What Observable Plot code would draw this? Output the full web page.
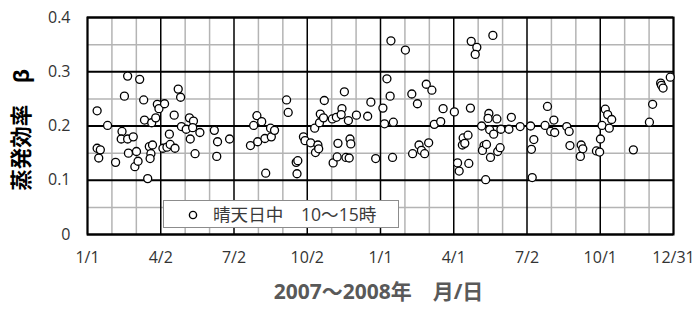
<!DOCTYPE html>
<html>
<head>
<meta charset="utf-8">
<script src="https://cdn.jsdelivr.net/npm/d3@7"></script>
<script src="https://cdn.jsdelivr.net/npm/@observablehq/plot@0.6"></script>
<style>
  html, body { margin: 0; padding: 0; background: white; }
  #wrap { position: relative; width: 700px; height: 312px; }
  #legend {
    position: absolute; left: 163px; top: 200px; width: 236px; height: 28px;
    box-sizing: border-box; border: 1px solid #8c8c8c; background: white;
    font-family: "Open Sans", "Noto Sans CJK JP", sans-serif; font-size: 17.6px; color: #3a3a3a;
  }
  #legend svg { position: absolute; left: 22px; top: 7px; }
  #legend span { position: absolute; left: 49px; top: 2px; line-height: 22px; white-space: pre; }
</style>
</head>
<body>
<div id="wrap"></div>
<script>
// Days counted from 2007-01-01 (0) to 2008-12-31 (730)
const days2007 = [12, 12, 16, 14, 25, 35, 43, 42, 50, 46, 50, 51, 57, 59, 61, 63, 65, 70, 71, 75,
  77, 79, 78, 81, 80, 85, 87, 89, 96, 94, 99, 102, 103, 108, 109, 113, 116, 117, 123, 127,
  132, 131, 128, 134, 140, 158, 162, 161, 177, 203, 207, 211, 212, 217, 222, 221, 228, 229, 233, 248,
  250, 260, 262, 261, 269, 271, 278, 283, 284, 287, 288, 289, 290, 294, 295, 306, 311, 305, 310, 312,
  317, 316, 320, 322, 326, 325, 327, 328, 335, 349, 353, 359];
const beta2007 = [0.228, 0.159, 0.156, 0.141, 0.201, 0.133, 0.190, 0.176, 0.176, 0.255, 0.292, 0.150, 0.180, 0.125, 0.153, 0.135, 0.286, 0.248, 0.211, 0.103,
  0.162, 0.149, 0.140, 0.165, 0.206, 0.215, 0.240, 0.232, 0.241, 0.159, 0.161, 0.185, 0.166, 0.220, 0.159, 0.268, 0.253, 0.199, 0.194, 0.215,
  0.209, 0.197, 0.176, 0.149, 0.188, 0.192, 0.171, 0.144, 0.176, 0.164, 0.201, 0.219, 0.171, 0.208, 0.113, 0.177, 0.196, 0.180, 0.192, 0.248,
  0.225, 0.133, 0.136, 0.112, 0.180, 0.173, 0.169, 0.196, 0.151, 0.165, 0.158, 0.206, 0.222, 0.215, 0.247, 0.132, 0.143, 0.213, 0.216, 0.168,
  0.232, 0.221, 0.263, 0.142, 0.141, 0.210, 0.176, 0.167, 0.220, 0.218, 0.244, 0.140];
const days2008 = [368, 370, 373, 377, 378, 381, 380, 396, 404, 411, 422, 429, 443, 457, 432, 440, 405, 413, 416, 420,
  425, 468, 474, 467, 470, 461, 463, 475, 477, 478, 485, 483, 505, 491, 500, 499, 510, 501, 506, 515,
  525, 528, 494, 492, 497, 502, 511, 514, 496, 539, 552, 556, 553, 554, 570, 573, 581, 577, 582, 597,
  600, 601, 615, 617, 614, 634, 638, 639, 641, 645, 648, 653, 650, 680, 700, 704, 714, 715, 717, 726];
const beta2008 = [0.233, 0.204, 0.287, 0.255, 0.357, 0.207, 0.142, 0.340, 0.259, 0.241, 0.277, 0.266, 0.232, 0.226, 0.203, 0.208, 0.149, 0.165, 0.155, 0.149,
  0.169, 0.178, 0.183, 0.165, 0.168, 0.132, 0.117, 0.131, 0.233, 0.356, 0.345, 0.332, 0.367, 0.200, 0.223, 0.214, 0.213, 0.193, 0.185, 0.194,
  0.194, 0.216, 0.164, 0.155, 0.166, 0.142, 0.153, 0.160, 0.101, 0.199, 0.200, 0.175, 0.157, 0.105, 0.201, 0.236, 0.211, 0.190, 0.188, 0.199,
  0.190, 0.164, 0.165, 0.158, 0.144, 0.154, 0.152, 0.176, 0.201, 0.231, 0.221, 0.212, 0.196, 0.156, 0.207, 0.240, 0.279, 0.275, 0.270, 0.290];

const tickDays = [0, 91.25, 182.5, 273.75, 365, 456.25, 547.5, 638.75, 730];
const tickLabels = ["1/1", "4/2", "7/2", "10/2", "1/1", "4/1", "7/2", "10/1", "12/31"];
const yTicks = [0, 0.1, 0.2, 0.3, 0.4];
const yTickLabels = ["0", "0.1", "0.2", "0.3", "0.4"];
const xTitle = "2007～2008年　月/日";
const yTitle = "蒸発効率　β";
const legendLabel = "晴天日中　10～15時";

const data = [
  ...days2007.map((d, i) => ({day: d, beta: beta2007[i]})),
  ...days2008.map((d, i) => ({day: d, beta: beta2008[i]}))
];

// minor grid: thirds between major x ticks, halves between major y ticks
const minorX = d3.range(tickDays.length - 1).flatMap(i => [1, 2].map(k => tickDays[i] + (tickDays[i + 1] - tickDays[i]) * k / 3));
const minorY = d3.range(yTicks.length - 1).map(i => (yTicks[i] + yTicks[i + 1]) / 2);

const chart = Plot.plot({
  width: 700,
  height: 312,
  marginLeft: 87,
  marginRight: 27,
  marginTop: 17,
  marginBottom: 78,
  style: {fontFamily: "'Open Sans', 'Noto Sans CJK JP', sans-serif", fontSize: "16px", color: "#333", background: "white"},
  x: {domain: [0, 730], ticks: tickDays, tickSize: 0, tickPadding: 17, tickFormat: d => tickLabels[tickDays.indexOf(d)], label: null},
  y: {domain: [0, 0.4], ticks: yTicks, tickSize: 0, tickPadding: 17, tickFormat: d => yTickLabels[yTicks.indexOf(d)], label: null},
  marks: [
    Plot.ruleX(minorX, {stroke: "#b4b4b4", strokeWidth: 1.5}),
    Plot.ruleY(minorY, {stroke: "#b4b4b4", strokeWidth: 1.5}),
    Plot.ruleX(tickDays, {stroke: "#000", strokeWidth: 1.5}),
    Plot.ruleY(yTicks, {stroke: "#000", strokeWidth: 2}),
    Plot.frame({stroke: "#000", strokeWidth: 2}),
    Plot.dot(data, {x: "day", y: "beta", r: 4, fill: "white", stroke: "black", strokeWidth: 1.3}),
    Plot.text([xTitle], {text: d => d, frameAnchor: "bottom", textAnchor: "middle", dx: -2, dy: 64, fontSize: 21, fontWeight: "bold", fill: "#595959"}),
    Plot.text([yTitle], {text: d => d, frameAnchor: "left", textAnchor: "middle", rotate: -90, dx: -65, dy: 4, fontSize: 21.5, fontWeight: "bold", fill: "#000"})
  ]
});

const wrap = document.getElementById("wrap");
wrap.appendChild(chart);

const legend = document.createElement("div");
legend.id = "legend";
legend.innerHTML = '<svg width="14" height="14"><circle cx="7" cy="7" r="3.6" fill="white" stroke="black" stroke-width="1.4"></circle></svg><span></span>';
legend.querySelector("span").textContent = legendLabel;
wrap.appendChild(legend);
</script>
</body>
</html>
